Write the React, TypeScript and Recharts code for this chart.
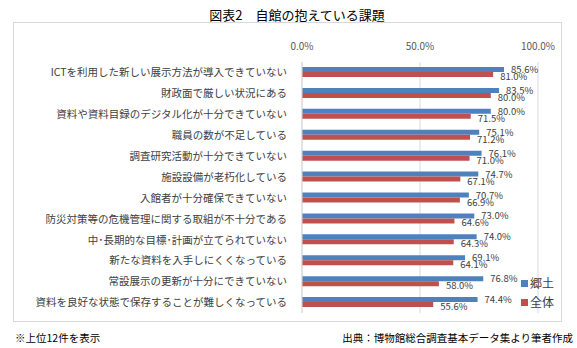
import React from "react";
import {
  BarChart,
  Bar,
  XAxis,
  YAxis,
  CartesianGrid,
  LabelList,
} from "recharts";

const categories = [
  "ICTを利用した新しい展示方法が導入できていない",
  "財政面で厳しい状況にある",
  "資料や資料目録のデジタル化が十分できていない",
  "職員の数が不足している",
  "調査研究活動が十分できていない",
  "施設設備が老朽化している",
  "入館者が十分確保できていない",
  "防災対策等の危機管理に関する取組が不十分である",
  "中･長期的な目標･計画が立てられていない",
  "新たな資料を入手しにくくなっている",
  "常設展示の更新が十分にできていない",
  "資料を良好な状態で保存することが難しくなっている",
];

const kyodo = [85.6, 83.5, 80.0, 75.1, 76.1, 74.7, 70.7, 73.0, 74.0, 69.1, 76.8, 74.4];
const zentai = [81.0, 80.0, 71.5, 71.2, 71.0, 67.1, 66.9, 64.6, 64.3, 64.1, 58.0, 55.6];

const xTicks = [0, 50, 100];

const data = categories.map((name, i) => ({
  name,
  kyodo: kyodo[i],
  zentai: zentai[i],
}));

const FONT = '"Noto Sans CJK JP", "Noto Sans", sans-serif';

const pct = (v: number) => v.toFixed(1) + "%";

const makeLabel = (dy: number) => (props: any) => {
  const { x, y, width, height, value } = props;
  return (
    <text
      x={Number(x) + Number(width) + 7}
      y={Number(y) + Number(height) / 2 + dy}
      dominantBaseline="central"
      fontSize={9.5}
      fill="#404040"
      fontFamily={FONT}
    >
      {pct(Number(value))}
    </text>
  );
};

export default function App() {
  return (
    <div
      style={{
        position: "absolute",
        left: 0,
        top: 0,
        width: 577,
        height: 348,
        background: "#fff",
        fontFamily: FONT,
        overflow: "hidden",
      }}
    >
      <div
        style={{
          position: "absolute",
          left: 0,
          width: 594,
          top: 7,
          textAlign: "center",
          fontSize: 13,
          lineHeight: "15px",
          color: "#000",
        }}
      >
        図表2　自館の抱えている課題
      </div>
      <div
        style={{
          position: "absolute",
          left: 13,
          top: 22,
          width: 549,
          height: 300,
          border: "1px solid #d9d9d9",
          boxSizing: "border-box",
        }}
      />
      <div style={{ position: "absolute", left: 0, top: 0 }}>
        <BarChart
          width={577}
          height={348}
          layout="vertical"
          data={data}
          margin={{ top: 0, right: 39, bottom: 35, left: 0 }}
          barCategoryGap="24%"
          barGap={0}
        >
          <CartesianGrid horizontal={false} stroke="#d9d9d9" />
          <XAxis
            type="number"
            orientation="top"
            domain={[0, 100]}
            ticks={xTicks}
            height={62}
            axisLine={false}
            tickLine={false}
            tickSize={0}
            tickMargin={12}
            tickFormatter={pct}
            tick={{ fontSize: 10, fill: "#595959", fontFamily: FONT }}
          />
          <YAxis
            type="category"
            dataKey="name"
            width={302}
            interval={0}
            axisLine={{ stroke: "#d9d9d9" }}
            tickLine={false}
            tickSize={0}
            tickMargin={15}
            tick={{ fontSize: 10.5, fill: "#404040", fontFamily: FONT }}
          />
          <Bar dataKey="kyodo" name="郷土" fill="#4f81bd" isAnimationActive={false}>
            <LabelList dataKey="kyodo" content={makeLabel(-0.5)} />
          </Bar>
          <Bar dataKey="zentai" name="全体" fill="#c0504d" isAnimationActive={false}>
            <LabelList dataKey="zentai" content={makeLabel(1.5)} />
          </Bar>
        </BarChart>
      </div>
      {[
        { label: "郷土", color: "#4f81bd", top: 276 },
        { label: "全体", color: "#c0504d", top: 295 },
      ].map((item) => (
        <div
          key={item.label}
          style={{
            position: "absolute",
            left: 521,
            top: item.top,
            display: "flex",
            alignItems: "center",
            fontSize: 12,
            lineHeight: "14px",
            color: "#404040",
          }}
        >
          <span
            style={{
              display: "inline-block",
              width: 7,
              height: 7,
              background: item.color,
              marginRight: 2,
            }}
          />
          {item.label}
        </div>
      ))}
      <div
        style={{
          position: "absolute",
          left: 15,
          top: 331,
          fontSize: 10.5,
          lineHeight: "13px",
          color: "#000",
        }}
      >
        ※上位12件を表示
      </div>
      <div
        style={{
          position: "absolute",
          right: 4,
          top: 331,
          fontSize: 10.5,
          lineHeight: "13px",
          color: "#000",
          whiteSpace: "nowrap",
        }}
      >
        出典：博物館総合調査基本データ集より筆者作成
      </div>
    </div>
  );
}
